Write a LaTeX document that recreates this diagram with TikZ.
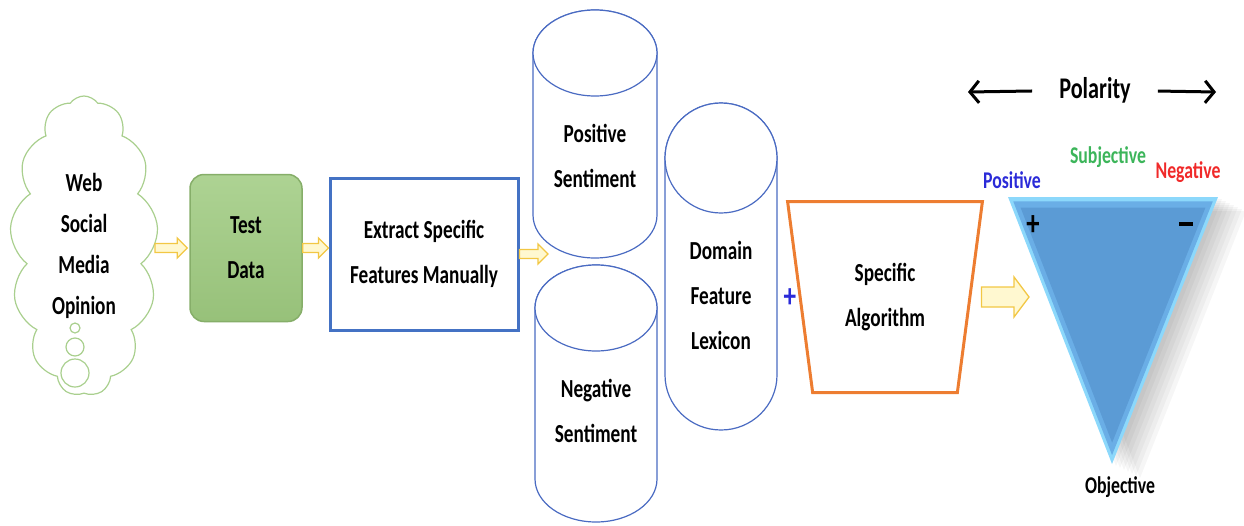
\documentclass[tikz,border=0pt]{standalone}
\usepackage{fontspec}
\setmainfont{Carlito}[FakeStretch=0.74]
\usetikzlibrary{arrows,arrows.meta,positioning,calc,shapes.geometric,shapes.symbols}
\definecolor{cloudgreen}{HTML}{A9CF8E}
\definecolor{testgreen}{HTML}{9FCB80}
\definecolor{testedge}{HTML}{86AE69}
\definecolor{boxblue}{HTML}{4472C4}
\definecolor{cylblue}{HTML}{4A6BC2}
\definecolor{algoorange}{HTML}{ED7D31}
\definecolor{arrowgold}{HTML}{F2C744}
\definecolor{arrowfill}{HTML}{FFF8D0}
\definecolor{triblue}{HTML}{5B9BD5}
\definecolor{trimid}{HTML}{6AAEE6}
\definecolor{trilight}{HTML}{8CD8FB}
\definecolor{posblue}{HTML}{2B2BD8}
\definecolor{subgreen}{HTML}{3CB55A}
\definecolor{negred}{HTML}{F02A2A}
\tikzset{font=\bfseries\fontsize{26}{45}\selectfont}
\tikzstyle{txt}=[align=center,inner sep=0pt]
\tikzstyle{small}=[font=\bfseries\fontsize{24}{24}\selectfont,inner sep=0pt]
\tikzstyle{cylline}=[draw=cylblue,line width=1.2pt,fill=white]
% hollow block arrow: shaft half width, head half width, head length
\tikzset{hollow/.style n args={3}{draw=arrowgold,fill=arrowfill,line width=1.3pt,line join=miter,
  to path={let \p1=(\tikztostart),\p2=(\tikztotarget) in
    (\x1,\y1+#1) -- (\x2-#3,\y1+#1) -- (\x2-#3,\y1+#2) -- (\x2,\y1) -- (\x2-#3,\y1-#2) -- (\x2-#3,\y1-#1) -- (\x1,\y1-#1) -- cycle}}}
% cylinder: centre x, top y, bottom y, x radius, y radius
\newcommand{\dbcyl}[5]{%
\filldraw[cylline] (#1-#4,#2+#5) -- (#1-#4,#3-#5) arc[start angle=180,end angle=0,x radius=#4,y radius=#5]
  -- (#1+#4,#2+#5) arc[start angle=0,end angle=-180,x radius=#4,y radius=#5] -- cycle;
\draw[cylline] (#1,#2+#5) ellipse[x radius=#4,y radius=#5];}

\begin{document}
\begin{tikzpicture}[x=1pt,y=-1pt]
\useasboundingbox (0,0) rectangle (1244,525);
\node[cloud,cloud puffs=13,cloud puff arc=110,cloud ignores aspect,draw=cloudgreen,line width=1.2pt,
  minimum width=148pt,minimum height=300pt,align=center,font=\bfseries\fontsize{26}{41}\selectfont] (web) at (84,246) {Web\\Social\\Media\\Opinion};
\foreach \yy/\rr in {328/5,347/9,373/14}
  \draw[cloudgreen,line width=1.2pt] (75,\yy) circle (\rr pt);
\node[rounded corners=14pt,draw=testedge,line width=1.5pt,top color=testgreen!85!white,bottom color=testgreen!95!black,
  minimum width=112pt,minimum height=147pt,align=center] (test) at (246,248) {Test\\Data};
\node[draw=boxblue,line width=3pt,minimum width=188pt,minimum height=152pt,align=center] (extract) at (424,254) {Extract Specific\\Features Manually};
\dbcyl{595}{10}{258}{62}{43}
\dbcyl{596}{265}{522}{61}{43}
\dbcyl{721}{103}{430}{56}{55}
\node[txt] (pos) at (595,156) {Positive\\Sentiment};
\node[txt] (neg) at (596,411) {Negative\\Sentiment};
\node[txt] (dom) at (721,295) {Domain\\Feature\\Lexicon};
\coordinate (join) at (548,260);
\node[text=posblue,font=\bfseries\fontsize{34}{34}\selectfont,inner sep=0pt] (plus) at (790,298) {+};
\node[trapezium,trapezium left angle=78.6,trapezium right angle=78.6,shape border rotate=180,trapezium stretches=true,
  draw=algoorange,line width=3pt,minimum width=195pt,minimum height=191pt,align=center] (algo) at (885,297) {Specific\\Algorithm};
\coordinate (tl) at (1008,197);
\coordinate (tr) at (1218,197);
\coordinate (ap) at (1112,464);
\coordinate (mid) at (1113,286);
\foreach \d in {4,8,...,28}
  \fill[black,opacity=0.035] ($(tl)+(\d,\d/2)$) -- ($(tr)+(\d,\d/2)$) -- ($(ap)+(\d,\d/2)$) -- cycle;
\fill[trilight] (tl) -- (tr) -- (ap) -- cycle;
\fill[trimid] ($(tl)!0.05!(mid)$) -- ($(tr)!0.05!(mid)$) -- ($(ap)!0.05!(mid)$) -- cycle;
\fill[triblue] ($(tl)!0.12!(mid)$) -- ($(tr)!0.12!(mid)$) -- ($(ap)!0.12!(mid)$) -- cycle;
\node[small,text=posblue] (posl) at (1012,180) {Positive};
\node[small,text=subgreen] (subl) at (1108,157) {Subjective};
\node[small,text=negred] (negl) at (1188,172) {Negative};
\node[font=\bfseries\fontsize{36}{36}\selectfont,inner sep=0pt] (plusm) at (1033,226) {+};
\node[inner sep=0pt] (minusm) at (1186,224) {\rule{14pt}{4pt}};
\node[small] (objl) at (1120,487) {Objective};
\node[font=\bfseries\fontsize{30}{30}\selectfont,inner xsep=27pt] (polarity) at (1095,90) {Polarity};
\coordinate (pl) at (968,92);
\coordinate (pr) at (1216,92);
\coordinate (tip) at (1029,298);
\path[-{Straight Barb[length=9pt,width=22pt]},line width=3pt]
(polarity) edge (pl)
(polarity) edge (pr);
\draw[hollow={4.5pt}{10pt}{10pt}] (web.east |- test.west) to ([xshift=-2pt]test.west);
\draw[hollow={4.5pt}{10pt}{10pt}] (test.east) to (test.east -| extract.west);
\draw[hollow={4.5pt}{10pt}{10pt}] (extract.east) to (extract.east -| join);
\draw[hollow={10pt}{20pt}{15pt}] ([xshift=10pt]algo.east) to (tip);
\end{tikzpicture}
\end{document}
